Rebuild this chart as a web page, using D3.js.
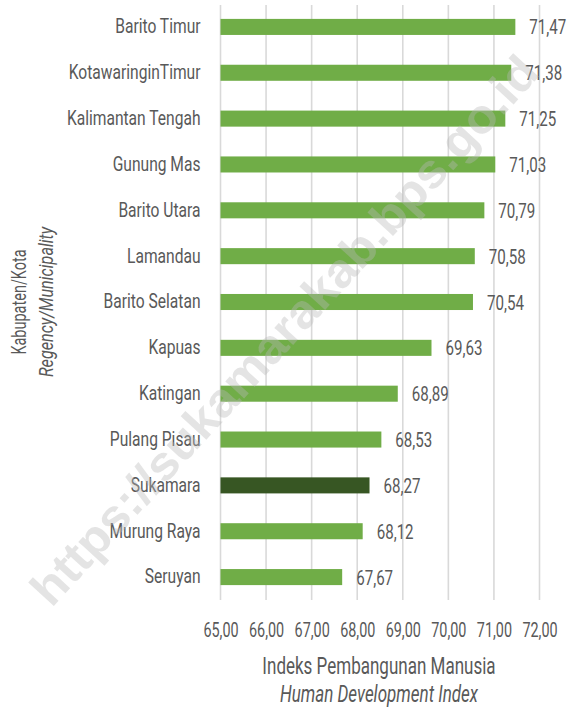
<!DOCTYPE html>
<html>
<head>
<meta charset="utf-8">
<script src="https://cdn.jsdelivr.net/npm/d3@7/dist/d3.min.js"></script>
<style>
  html, body { margin: 0; padding: 0; background: #fff; }
  svg { display: block; }
  text { font-family: Roboto, "Liberation Sans", sans-serif; fill: #595959; }
</style>
</head>
<body>
<svg id="chart" width="568" height="709"></svg>
<script>
// Human Development Index by regency/municipality, Central Kalimantan
const regencies = [
  "Barito Timur", "KotawaringinTimur", "Kalimantan Tengah", "Gunung Mas",
  "Barito Utara", "Lamandau", "Barito Selatan", "Kapuas", "Katingan",
  "Pulang Pisau", "Sukamara", "Murung Raya", "Seruyan"
];
const ipmValues = [71.47, 71.38, 71.25, 71.03, 70.79, 70.58, 70.54, 69.63, 68.89, 68.53, 68.27, 68.12, 67.67];
const highlighted = ["Sukamara"];
const xTicks = [65, 66, 67, 68, 69, 70, 71, 72];

const svg = d3.select("#chart");
const plotLeft = 220.5, plotRight = 539.5, plotTop = 4, plotBottom = 600;
const SX = 0.78; // horizontal squeeze for a condensed look

const x = d3.scaleLinear().domain([65, 72]).range([plotLeft, plotRight]);
const y = d3.scaleBand().domain(regencies).range([plotTop, plotBottom]).paddingInner(0.65).paddingOuter(0.325);

const fmt = v => d3.format(".2f")(v).replace(".", ",");

// squeeze text horizontally while keeping its anchor point
function condense(sel, sx) {
  sel.each(function () {
    const t = d3.select(this);
    const x0 = +t.attr("x") || 0;
    t.attr("x", x0 / sx).attr("transform", `scale(${sx},1)`);
  });
}

// vertical gridlines
svg.append("g").selectAll("line").data(xTicks).join("line")
  .attr("x1", d => x(d)).attr("x2", d => x(d))
  .attr("y1", plotTop + 1).attr("y2", plotBottom)
  .attr("stroke", "#d9d9d9").attr("stroke-width", 1.6);

// x axis tick labels
const xAxis = d3.axisBottom(x).tickValues(xTicks).tickSize(0).tickPadding(0).tickFormat(fmt);
const gx = svg.append("g").attr("transform", `translate(0,${plotBottom + 23})`).call(xAxis);
gx.select(".domain").remove();
gx.attr("font-family", null).attr("font-size", null);
gx.selectAll("text").attr("font-size", 20).attr("fill", "#595959").call(condense, 0.72);

// bars
svg.append("g").selectAll("rect").data(regencies).join("rect")
  .attr("x", x(65))
  .attr("y", d => y(d))
  .attr("width", (d, i) => x(ipmValues[i]) - x(65))
  .attr("height", y.bandwidth())
  .attr("fill", d => highlighted.includes(d) ? "#375623" : "#70ad47");

// category labels
const yAxis = d3.axisLeft(y).tickSize(0).tickPadding(20);
const gy = svg.append("g").attr("transform", `translate(${plotLeft},0)`).call(yAxis);
gy.select(".domain").remove();
gy.attr("font-family", null).attr("font-size", null);
gy.selectAll("text").attr("font-size", 20).attr("fill", "#595959").call(condense, SX);

// value labels
svg.append("g").selectAll("text").data(regencies).join("text")
  .attr("x", (d, i) => x(ipmValues[i]) + 14)
  .attr("y", d => y(d) + y.bandwidth() / 2)
  .attr("dy", "0.36em")
  .attr("font-size", 21)
  .text((d, i) => fmt(ipmValues[i]))
  .call(condense, 0.72);

// axis titles
svg.append("text").attr("x", 379).attr("y", 674).attr("text-anchor", "middle")
  .attr("font-size", 23).text("Indeks Pembangunan Manusia").call(condense, 0.74);
svg.append("text").attr("x", 379).attr("y", 702).attr("text-anchor", "middle")
  .attr("font-size", 23).attr("font-style", "italic").text("Human Development Index").call(condense, 0.74);

svg.append("g").attr("transform", "translate(26,302) rotate(-90)")
  .append("text").attr("text-anchor", "middle")
  .attr("font-size", 21).text("Kabupaten/Kota").call(condense, 0.69);
svg.append("g").attr("transform", "translate(53,302) rotate(-90)")
  .append("text").attr("text-anchor", "middle")
  .attr("font-size", 21).attr("font-style", "italic").text("Regency/Municipality").call(condense, 0.77);

// watermark
svg.append("text")
  .attr("transform", "translate(284,330) rotate(-47.5)")
  .attr("text-anchor", "middle")
  .attr("dy", "0.35em")
  .attr("font-size", 48)
  .attr("font-weight", "bold")
  .style("font-family", "'Liberation Sans', Arial, sans-serif")
  .style("fill", "rgba(185,185,185,0.38)")
  .attr("textLength", 725)
  .attr("lengthAdjust", "spacingAndGlyphs")
  .text("https://sukamarakab.bps.go.id");
</script>
</body>
</html>
